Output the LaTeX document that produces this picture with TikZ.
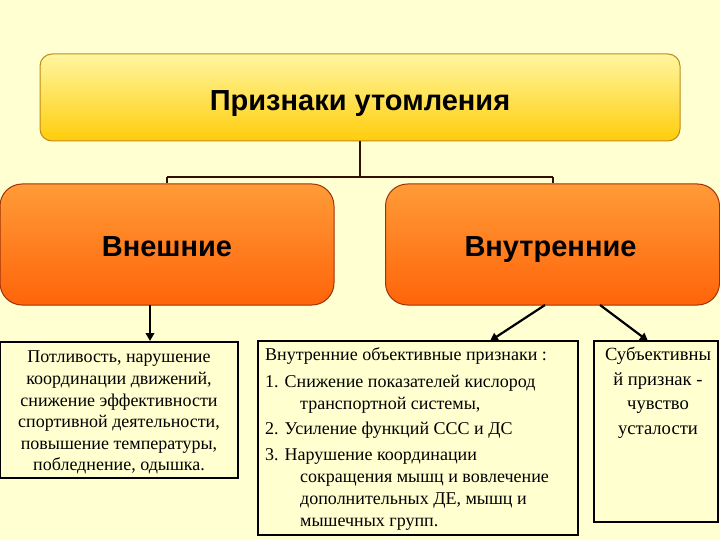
\documentclass[tikz,border=0pt]{standalone}
\usepackage{fontspec}
\setmainfont{Liberation Serif}
\newfontfamily\bodyfont{Liberation Serif}
\newfontfamily\headfont{Liberation Sans}
\usetikzlibrary{arrows.meta}
\definecolor{bg}{RGB}{255,255,210}
\definecolor{ytop}{RGB}{255,246,160}
\definecolor{ybot}{RGB}{255,205,10}
\definecolor{yline}{RGB}{190,140,30}
\definecolor{otop}{RGB}{255,155,55}
\definecolor{obot}{RGB}{255,100,10}
\definecolor{oline}{RGB}{160,50,10}
\definecolor{conn}{RGB}{50,15,0}
\definecolor{boxfill}{RGB}{255,255,208}
\tikzset{
  topbox/.style={draw=yline, line width=1pt, rounded corners=12pt, top color=ytop, bottom color=ybot, minimum width=640pt, minimum height=87pt, text height=28pt, text depth=2pt, font=\headfont\bfseries\fontsize{29}{30}\selectfont},
  subbox/.style={draw=oline, line width=1pt, rounded corners=22pt, top color=otop, bottom color=obot, minimum width=334pt, minimum height=121pt, text height=26pt, text depth=3pt, font=\headfont\bfseries\fontsize{29}{30}\selectfont},
  textbox/.style={draw=black, line width=1.8pt, fill=boxfill, inner sep=0pt},
  connline/.style={draw=conn, line width=1.6pt},
  arr/.style={draw=black, line width=2.2pt, -{Triangle[length=8pt,width=8.5pt]}},
  body/.style={inner sep=0pt, font=\bodyfont\fontsize{18}{21.6}\selectfont}
}
\begin{document}
\begin{tikzpicture}[x=1pt,y=-1pt]
\useasboundingbox (0,0) rectangle (720,540);
\fill[bg] (0,0) rectangle (720,540);

\node[topbox] (top) at (360,97.5) {Признаки утомления};
\node[subbox] (ext) at (167,244.5) {Внешние};
\node[subbox] (int) at (552.5,244.5) {\hspace*{-4pt}Внутренние};

\coordinate (j) at (360,177);
\coordinate (jl) at (167,177);
\coordinate (jr) at (553,177);
\draw[connline] (top.south) -- (j);
\draw[connline] (jl) -- (jr);
\draw[connline] (jl) -- (jl |- ext.north);
\draw[connline] (jr) -- (jr |- int.north);

\node[textbox, minimum width=238pt, minimum height=136pt] (b1) at (119,410) {};
\node[textbox, minimum width=320pt, minimum height=194pt] (b2) at (418,438) {};
\node[textbox, minimum width=124pt, minimum height=181pt] (b3) at (656,431.5) {};

\node[body, align=center, anchor=north] (t1) at (119,351) {Потливость, нарушение\\координации движений,\\снижение эффективности\\спортивной деятельности,\\повышение температуры,\\побледнение, одышка.};

\node[body, align=left, anchor=north west, font=\bodyfont\fontsize{18}{22}\selectfont] (t2) at (265,347) {Внутренние объективные признаки :\\[5pt]
1. Снижение показателей кислород\\
\hspace*{35pt}транспортной системы,\\[3pt]
2. Усиление функций ССС и ДС\\[4pt]
3. Нарушение координации\\
\hspace*{35pt}сокращения мышц и вовлечение\\
\hspace*{35pt}дополнительных ДЕ, мышц и\\
\hspace*{35pt}мышечных групп.};

\node[body, align=center, anchor=north, font=\bodyfont\fontsize{18.6}{24.5}\selectfont] (t3) at (658,347) {Субъективны\\й признак -\\чувство\\усталости};

\coordinate (a1s) at (150,305);
\coordinate (a1e) at (150,341);
\coordinate (a2s) at (545,305);
\coordinate (a2e) at (490,341);
\coordinate (a3s) at (600,305);
\coordinate (a3e) at (648,341);
\draw[arr] (a1s) -- (a1e);
\draw[arr] (a2s) -- (a2e);
\draw[arr] (a3s) -- (a3e);
\end{tikzpicture}
\end{document}
